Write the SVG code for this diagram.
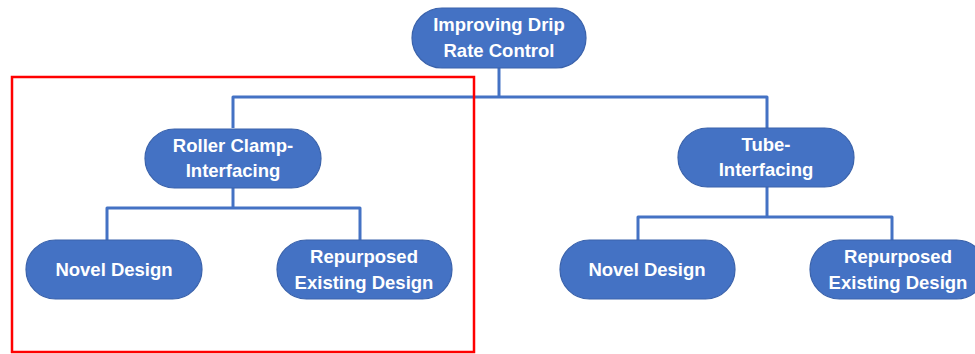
<svg xmlns="http://www.w3.org/2000/svg" width="975" height="354" viewBox="0 0 975 354">
  <style>
    .node rect { fill: #4472C4; stroke: #3A62AB; stroke-width: 1.2; }
    .node text { fill: #FFFFFF; font-family: "Liberation Sans", Arial, sans-serif; font-weight: bold; font-size: 18.5px; text-anchor: middle; }
    .wire { fill: none; stroke: #4472C4; stroke-width: 3; stroke-linejoin: round; }
    .frame { fill: none; stroke: #FF0000; stroke-width: 2.5; }
  </style>
  <rect width="975" height="354" fill="#FFFFFF"/>

  <!-- connectors -->
  <g id="connectors">
    <path class="wire" d="M499 68 V97"/>
    <path class="wire" d="M233 128 V97 H767 V128"/>
    <path class="wire" d="M233 188 V208"/>
    <path class="wire" d="M107 240 V208 H360 V240"/>
    <path class="wire" d="M767 187 V217"/>
    <path class="wire" d="M638 240 V217 H892 V240"/>
  </g>

  <!-- nodes -->
  <g id="root" class="node">
    <rect x="412" y="8" width="174" height="60" rx="30"/>
    <text x="499" y="31">Improving Drip</text>
    <text x="499" y="57">Rate Control</text>
  </g>
  <g id="roller-clamp" class="node">
    <rect x="145" y="129" width="176" height="59" rx="29.5"/>
    <text x="233" y="152">Roller Clamp-</text>
    <text x="233" y="177">Interfacing</text>
  </g>
  <g id="tube" class="node">
    <rect x="678" y="128" width="176" height="59" rx="29.5"/>
    <text x="766" y="151">Tube-</text>
    <text x="766" y="176">Interfacing</text>
  </g>
  <g id="roller-novel" class="node">
    <rect x="26" y="240" width="176" height="59" rx="29.5"/>
    <text x="114" y="276">Novel Design</text>
  </g>
  <g id="roller-repurposed" class="node">
    <rect x="277" y="240" width="175" height="59" rx="29.5"/>
    <text x="364" y="263">Repurposed</text>
    <text x="364" y="289">Existing Design</text>
  </g>
  <g id="tube-novel" class="node">
    <rect x="560" y="240" width="175" height="59" rx="29.5"/>
    <text x="647" y="276">Novel Design</text>
  </g>
  <g id="tube-repurposed" class="node">
    <rect x="810" y="240" width="176" height="59" rx="29.5"/>
    <text x="898" y="263">Repurposed</text>
    <text x="898" y="289">Existing Design</text>
  </g>

  <!-- highlight frame -->
  <rect class="frame" x="12" y="77" width="462" height="275"/>
</svg>
